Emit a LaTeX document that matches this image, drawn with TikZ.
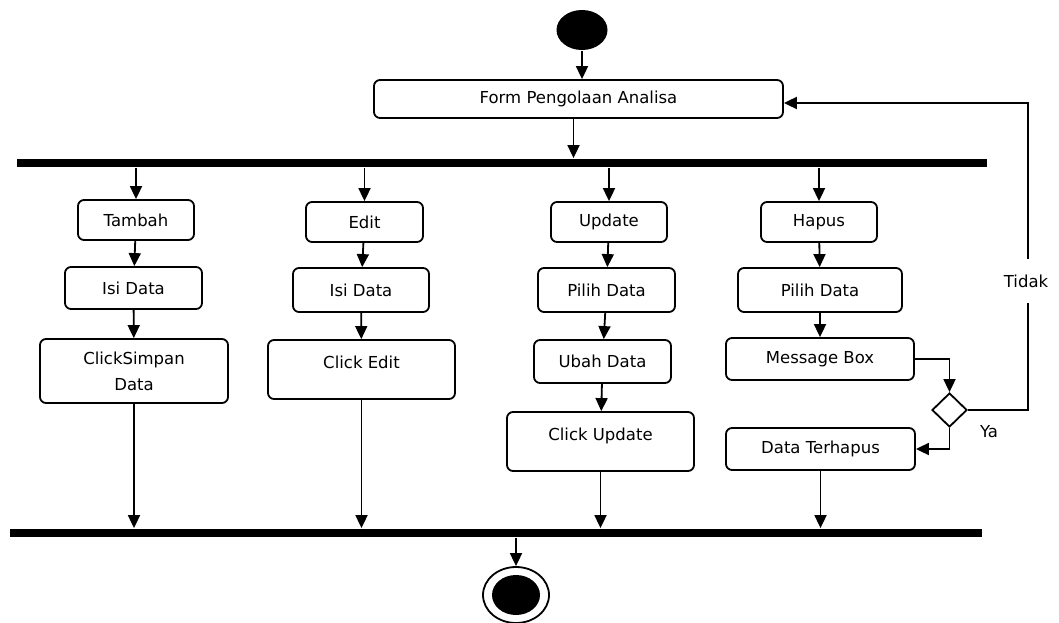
\documentclass[tikz,border=0pt]{standalone}
\usepackage{fontspec}
\setmainfont{DejaVu Sans}
\usetikzlibrary{arrows.meta,shapes.geometric}

\begin{document}
\begin{tikzpicture}[x=1pt,y=-1pt,line width=1.8pt,font=\fontsize{16.5}{26}\selectfont,
  act/.style={draw,rounded corners=6pt,inner sep=0pt,align=center},
  tallact/.style={act,text depth=15pt},
  bar/.style={fill=black,inner sep=0pt,minimum height=8pt},
  arr/.style={-{Triangle[width=12pt,length=13pt]}}]
\useasboundingbox (0,0) rectangle (1059,623);

\node[ellipse,fill=black,inner sep=0pt,minimum width=51pt,minimum height=40pt] (start) at (582,30) {};
\node[act,minimum width=409pt,minimum height=38pt] (form) at (578.5,99) {Form Pengolaan Analisa};
\node[bar,minimum width=970pt] (topbar) at (502,163) {};

% Tambah
\node[act,minimum width=116pt,minimum height=40pt] (tambah) at (136,220) {Tambah};
\node[act,minimum width=137pt,minimum height=42pt] (isi1) at (133.5,288) {Isi Data};
\node[act,minimum width=188pt,minimum height=64pt] (simpan) at (134,371) {ClickSimpan\\Data};
% Edit
\node[act,minimum width=117pt,minimum height=40pt] (edit) at (364.5,222) {Edit};
\node[act,minimum width=136pt,minimum height=44pt] (isi2) at (361,290) {Isi Data};
\node[tallact,minimum width=187pt,minimum height=59pt] (clickedit) at (361.5,369.5) {Click Edit};
% Update
\node[act,minimum width=116pt,minimum height=40pt] (update) at (609,222) {Update};
\node[act,minimum width=137pt,minimum height=44pt] (pilih1) at (606.5,290) {Pilih Data};
\node[act,minimum width=137pt,minimum height=43pt] (ubah) at (602.5,361.5) {Ubah Data};
\node[tallact,minimum width=187pt,minimum height=59pt] (clickupdate) at (600.5,441.5) {Click Update};
% Hapus
\node[act,minimum width=116pt,minimum height=40pt] (hapus) at (819,222) {Hapus};
\node[act,minimum width=164pt,minimum height=44pt] (pilih2) at (820,290) {Pilih Data};
\node[act,minimum width=188pt,minimum height=42pt] (msgbox) at (820,359) {Message Box};
\node[act,minimum width=189pt,minimum height=42pt] (terhapus) at (820.5,449) {Data Terhapus};
\node[diamond,draw,inner sep=0pt,minimum width=35pt,minimum height=34pt] (cek) at (949.5,410) {};

\node[bar,minimum width=972pt] (botbar) at (496,533) {};
\node[ellipse,draw,inner sep=0pt,minimum width=66pt,minimum height=56pt] (stop) at (516,595) {};
\node[ellipse,fill=black,inner sep=0pt,minimum width=48pt,minimum height=40pt] (stopdot) at (516,595) {};

\draw[arr] (start) -- (start |- form.north);
\draw[arr] ([xshift=-5pt]form.south) -- ([xshift=-5pt]form.south |- topbar.north);

\draw[arr] (tambah |- topbar.south) -- (tambah);
\draw[arr] (tambah) -- (isi1);
\draw[arr] (isi1) -- (simpan);
\draw[arr] (simpan) -- (simpan |- botbar.north);

\draw[arr] (edit |- topbar.south) -- (edit);
\draw[arr] (edit) -- (isi2);
\draw[arr] (isi2) -- (clickedit);
\draw[arr] (clickedit) -- (clickedit |- botbar.north);

\draw[arr] (update |- topbar.south) -- (update);
\draw[arr] (update) -- (pilih1);
\draw[arr] (pilih1) -- (ubah);
\draw[arr] (ubah) -- (clickupdate);
\draw[arr] (clickupdate) -- (clickupdate |- botbar.north);

\draw[arr] (hapus |- topbar.south) -- (hapus);
\draw[arr] (hapus) -- (pilih2);
\draw[arr] (pilih2) -- (msgbox);
\draw[arr] (msgbox.east) -| (cek.north);
\draw[arr] (cek.south) |- (terhapus.east);
\draw[arr] (terhapus) -- (terhapus |- botbar.north);

% kembali ke form
\coordinate (balik) at (1028,410);
\draw[arr] (cek.east) -- (balik) |- ([yshift=-4pt]form.east);
\node[fill=white,inner sep=2pt,minimum height=44pt] (tidak) at (1026,281) {Tidak};
\node (ya) at (989,432) {Ya};

\draw[arr] (botbar.south -| stop) -- (stop.north);
\end{tikzpicture}
\end{document}
